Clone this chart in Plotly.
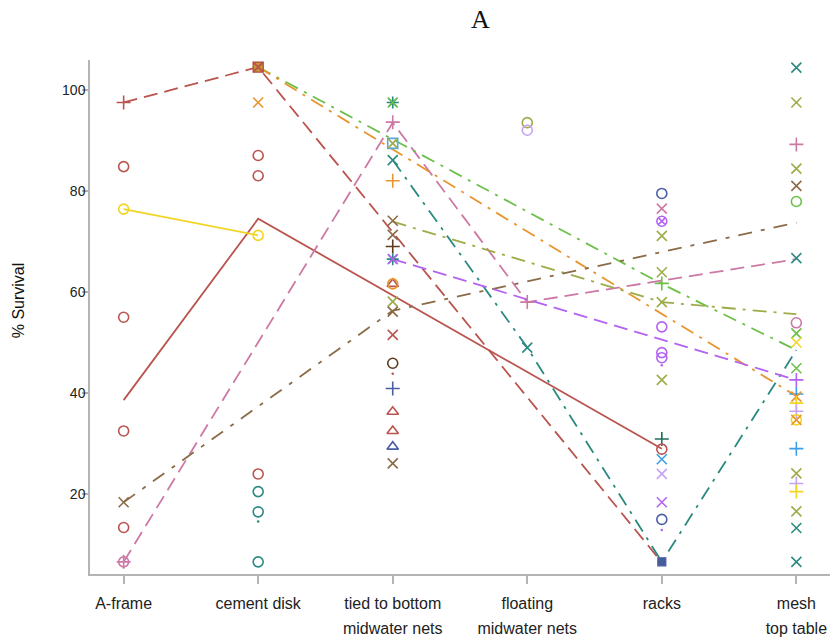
import plotly.graph_objects as go

# ---------------- data ----------------
categories = ["A-frame", "cement disk", "tied to bottom", "floating", "racks", "mesh"]
label_line1 = ["A-frame", "cement disk", "tied to bottom", "floating", "racks", "mesh"]
label_line2 = ["", "", "midwater nets", "midwater nets", "", "top table"]
y_ticks = [20, 40, 60, 80, 100]

# line series (mean survival per study), None where not tested
line_red_dash = [97.5, 104.5, None, None, 6.5, None]
line_red_solid = [38.6, 74.5, None, None, 29.0, None]
line_yellow = [76.4, 71.2, None, None, None, None]
line_pink = [6.6, None, 93.5, 58.0, None, 66.5]
line_green = [None, 104.5, None, None, 61.6, 48.5]
line_orange = [None, 104.5, None, None, None, 39.4]
line_teal = [None, None, 86.1, 49.0, 6.6, 48.5]
line_olive = [None, None, 73.9, None, 58.0, 55.6]
line_brown = [18.4, None, 56.3, None, None, 73.7]
line_purple = [None, None, 66.5, None, None, 42.6]

# individual observations per category (value, study id)
aframe_vals = [97.5, 84.8, 76.4, 55.0, 32.5, 18.4, 13.4, 6.6, 6.6]
aframe_ids = ["red+", "redO", "yelO", "redO", "redO", "brnX", "redO", "pinkO", "pink+"]

cement_vals = [104.5, 104.5, 97.5, 87.0, 83.0, 71.2, 24.0, 20.5, 16.5, 14.6, 6.6]
cement_ids = ["orgSq", "redX", "orgX", "redO", "redO", "yelO", "redO", "tealO", "tealO", "tealDot", "tealO"]

tied_vals = [97.5, 97.5, 93.6, 89.4, 89.4, 86.1, 82.0, 74.1, 71.3, 69.0, 66.5, 66.5,
             61.6, 61.6, 58.1, 56.1, 51.5, 45.9, 43.8, 40.9, 36.3, 32.5, 29.4, 26.1]
tied_ids = ["tealAst", "grnX", "pink+", "ltbSq", "olvX", "tealX", "org+", "brnX", "brnX", "dkb+",
            "tealAst", "purX", "redTri", "orgO", "olvX", "brnX", "redX", "dkbO", "redDot", "navy+",
            "redTri", "redTri", "navyTri", "brnX"]

floating_vals = [93.5, 92.0, 58.0, 49.0]
floating_ids = ["olvO", "lavO", "pink+", "tealX"]

racks_vals = [79.5, 76.5, 74.0, 71.1, 63.9, 61.7, 58.0, 53.1, 48.0, 47.0, 45.5, 42.6,
              30.9, 28.9, 26.9, 24.0, 18.4, 15.0, 12.9, 6.6]
racks_ids = ["navyO", "pinkX", "purOX", "olvX", "olvX", "grn+", "olvX", "purO", "purO", "purO",
             "purDot", "olvX", "dkt+", "redO", "azX", "lavX", "purX", "navyO", "purDot", "navySq"]

mesh_vals = [104.4, 97.5, 89.2, 84.4, 81.0, 77.9, 66.7, 53.9, 51.8, 50.0, 44.9, 42.6, 39.8,
             39.3, 38.0, 36.4, 34.7, 34.7, 29.0, 24.1, 22.1, 20.5, 16.6, 13.3, 6.6]
mesh_ids = ["tealX", "olvX", "pink+", "olvX", "brnX", "grnO", "tealX", "pinkO", "grnX", "yelX",
            "grnX", "pur+", "az+", "orgX", "yel+", "lav+", "yelO", "orgX", "az+", "olvX", "lav+",
            "yel+", "olvX", "tealX", "tealX"]

# ---------------- styles ----------------
RED = "#b9544f"
YELLOW = "#f2d522"
PINK = "#cc79a5"
GREEN = "#6cc04a"
ORANGE = "#e8952f"
TEAL = "#2b8a80"
OLIVE = "#9dab48"
BROWN = "#8b6b47"
PURPLE = "#b462f0"
LAVENDER = "#c6a2f4"
NAVY = "#4d5ea6"
AZURE = "#3c9de8"
DKBROWN = "#5c3b1c"
DKTEAL = "#1f6e5e"
LTBLUE = "#5aa8e8"

marker_style = {
    "red+": (RED, "cross-thin-open"), "redO": (RED, "circle-open"), "redX": (RED, "x-thin-open"),
    "redTri": (RED, "triangle-up-open"), "redDot": (RED, "circle"),
    "yelO": (YELLOW, "circle-open"), "yelX": (YELLOW, "x-thin-open"), "yel+": (YELLOW, "cross-thin-open"),
    "brnX": (BROWN, "x-thin-open"), "dkb+": (DKBROWN, "cross-thin-open"), "dkbO": (DKBROWN, "circle-open"),
    "pinkO": (PINK, "circle-open"), "pink+": (PINK, "cross-thin-open"), "pinkX": (PINK, "x-thin-open"),
    "orgSq": (ORANGE, "square"), "orgX": (ORANGE, "x-thin-open"), "org+": (ORANGE, "cross-thin-open"),
    "orgO": (ORANGE, "circle-open"),
    "tealO": (TEAL, "circle-open"), "tealX": (TEAL, "x-thin-open"), "tealAst": (TEAL, "asterisk-open"),
    "tealDot": (TEAL, "circle"),
    "grnX": (GREEN, "x-thin-open"), "grn+": (GREEN, "cross-thin-open"), "grnO": (GREEN, "circle-open"),
    "ltbSq": (LTBLUE, "square-open"),
    "olvX": (OLIVE, "x-thin-open"), "olvO": (OLIVE, "circle-open"),
    "lavO": (LAVENDER, "circle-open"), "lavX": (LAVENDER, "x-thin-open"), "lav+": (LAVENDER, "cross-thin-open"),
    "purX": (PURPLE, "x-thin-open"), "purO": (PURPLE, "circle-open"), "purOX": (PURPLE, "circle-x-open"),
    "pur+": (PURPLE, "cross-thin-open"), "purDot": (PURPLE, "circle"),
    "navyO": (NAVY, "circle-open"), "navy+": (NAVY, "cross-thin-open"), "navyTri": (NAVY, "triangle-up-open"),
    "navySq": (NAVY, "square-x"),
    "dkt+": (DKTEAL, "cross-thin-open"),
    "azX": (AZURE, "x-thin-open"), "az+": (AZURE, "cross-thin-open"),
}

fig = go.Figure()

lines = [
    (line_red_dash, RED, "14px,7px"),
    (line_red_solid, RED, "solid"),
    (line_yellow, YELLOW, "solid"),
    (line_pink, PINK, "14px,7px"),
    (line_green, GREEN, "14px,7px,3px,7px"),
    (line_orange, ORANGE, "14px,7px,3px,7px"),
    (line_teal, TEAL, "14px,7px,3px,7px"),
    (line_olive, OLIVE, "14px,7px,3px,7px"),
    (line_brown, BROWN, "14px,9px,4px,9px"),
    (line_purple, PURPLE, "14px,7px"),
]
for vals, col, dash in lines:
    fig.add_trace(go.Scatter(x=categories, y=vals, mode="lines", connectgaps=True,
                             line=dict(color=col, width=1.8, dash=dash),
                             showlegend=False, hoverinfo="skip"))

groups = [
    ("A-frame", aframe_vals, aframe_ids),
    ("cement disk", cement_vals, cement_ids),
    ("tied to bottom", tied_vals, tied_ids),
    ("floating", floating_vals, floating_ids),
    ("racks", racks_vals, racks_ids),
    ("mesh", mesh_vals, mesh_ids),
]
for cat, vals, ids in groups:
    for v, sid in zip(vals, ids):
        col, sym = marker_style[sid]
        if sym == "circle":
            mk = dict(symbol="circle", size=2.5, color=col)
        elif sym == "square":
            mk = dict(symbol="square-x", size=10, color="#c99a34", line=dict(color="#b04a3a", width=1.3))
        elif sym == "square-x":
            mk = dict(symbol="square-x", size=8, color="#3f5d8f", line=dict(color=NAVY, width=1.2))
        else:
            mk = dict(symbol=sym, size=10, color=col, line=dict(color=col, width=1.6))
        fig.add_trace(go.Scatter(x=[cat], y=[v], mode="markers", marker=mk,
                                 showlegend=False, hoverinfo="skip"))

# dummy trace for second tick-label row axis
fig.add_trace(go.Scatter(x=list(range(len(categories))), y=[None] * len(categories), xaxis="x2",
                         mode="markers", showlegend=False, hoverinfo="skip"))

AX = "#b4b4b4"
fig.update_layout(
    width=833, height=643,
    margin=dict(l=90, r=3, t=60, b=69),
    paper_bgcolor="white", plot_bgcolor="white",
    font=dict(family="Liberation Sans, Arial, sans-serif", color="#222"),
    xaxis=dict(type="category", categoryorder="array", categoryarray=categories,
               range=[-0.25, 5.25], tickmode="array", tickvals=categories, ticktext=label_line1,
               showline=True, linecolor=AX, linewidth=1.5, ticks="outside", ticklen=8,
               tickcolor=AX, tickwidth=1.5, showgrid=False, zeroline=False,
               tickfont=dict(size=16, color="#222"), ticklabelstandoff=6),
    xaxis2=dict(overlaying="x", anchor="y", side="bottom", range=[-0.25, 5.25],
                tickmode="array", tickvals=list(range(len(categories))), ticktext=label_line2,
                showline=False, ticks="", showgrid=False, zeroline=False,
                tickfont=dict(size=16, color="#222"), ticklabelstandoff=43),
    yaxis=dict(range=[4.2, 105.9], tickmode="array", tickvals=y_ticks,
               showline=True, linecolor=AX, linewidth=1.5, ticks="outside", ticklen=6,
               tickcolor=AX, tickwidth=1.5, showgrid=False, zeroline=False,
               tickfont=dict(size=14, color="#222"), ticklabelstandoff=-6),
    annotations=[
        dict(text="A", xref="paper", yref="paper", x=0.528, y=1.078, xanchor="center", yanchor="middle",
             showarrow=False, font=dict(family="Liberation Serif, Times New Roman, serif", size=26, color="#111")),
        dict(text="% Survival", xref="paper", yref="paper", x=-0.097, y=0.533, textangle=-90,
             xanchor="center", yanchor="middle", showarrow=False, font=dict(size=16, color="#111")),
    ],
)

fig.write_html("out.html")
